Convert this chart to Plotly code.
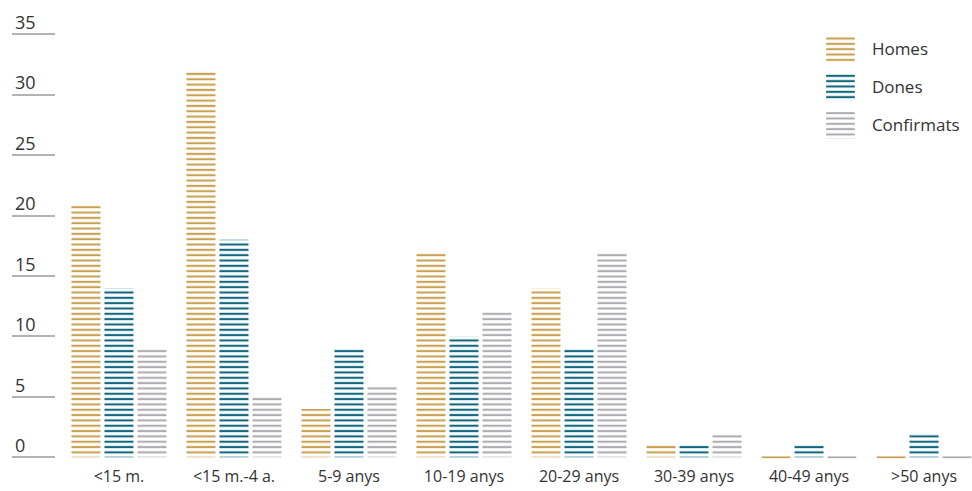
import plotly.graph_objects as go

# Age bands and counts per group
categories = ["<15 m.", "<15 m.-4 a.", "5-9 anys", "10-19 anys", "20-29 anys",
              "30-39 anys", "40-49 anys", ">50 anys"]
homes = [21, 32, 4, 17, 14, 1, 0, 0]
dones = [14, 18, 9, 10, 9, 1, 1, 2]
confirmats = [9, 5, 6, 12, 17, 2, 0, 0]
series_names = ["Homes", "Dones", "Confirmats"]
y_ticks = [0, 5, 10, 15, 20, 25, 30, 35]

colors = ["#C9A155", "#12677F", "#ADADB1"]
series = [homes, dones, confirmats]

FONT = "Open Sans"
TEXT = "#333333"
BARGAP = 0.139
GROUPGAP = 0.121
slot = (1 - BARGAP) / 3


def stripes(col):
    return dict(shape="-", size=5.33, solidity=0.4, fgcolor=col,
                bgcolor="rgba(255,255,255,0)", fgopacity=1)


x_idx = list(range(len(categories)))

fig = go.Figure()

for k, (name, vals, col) in enumerate(zip(series_names, series, colors)):
    fig.add_trace(go.Bar(
        x=x_idx, y=vals, name=name,
        marker=dict(color=col, line=dict(width=0), pattern=stripes(col)),
        showlegend=False, hoverinfo="skip",
    ))
    # a zero count still shows its single base stripe
    zx = [i + (k - 1) * slot for i, v in zip(x_idx, vals) if v == 0]
    zy = [0 for v in vals if v == 0]
    if zx:
        fig.add_trace(go.Scatter(
            x=zx, y=zy, mode="markers", showlegend=False, hoverinfo="skip",
            marker=dict(symbol="line-ew", size=20.5,
                        line=dict(color=col, width=1.8)),
        ))

# legend swatches drawn as patterned bars on their own small axes
for name, col in zip(series_names, colors):
    fig.add_trace(go.Bar(
        x=[1], y=[name], orientation="h", width=0.71,
        xaxis="x2", yaxis="y2", showlegend=False, hoverinfo="skip",
        marker=dict(color=col, line=dict(width=0), pattern=stripes(col)),
    ))

fig.update_layout(
    width=972, height=491,
    margin=dict(l=12, r=0, t=2, b=26),
    paper_bgcolor="white", plot_bgcolor="white",
    barmode="group", bargap=BARGAP, bargroupgap=GROUPGAP,
    font=dict(family=FONT, color=TEXT),
    xaxis=dict(
        range=[-0.930, 7.417], tickmode="array", tickvals=x_idx,
        ticktext=categories, showgrid=False, zeroline=False, showline=False,
        ticks="", tickfont=dict(size=16, color=TEXT), fixedrange=True,
    ),
    yaxis=dict(
        range=[-0.637, 37.672], tickmode="array", tickvals=y_ticks,
        showgrid=False, zeroline=False, showline=False,
        ticks="inside", ticklen=43, tickwidth=2, tickcolor="#B3B3B3",
        ticklabelposition="inside top", ticklabelshift=2,
        tickfont=dict(size=18, color=TEXT), fixedrange=True,
    ),
    xaxis2=dict(domain=[0.848, 0.878], anchor="y2", range=[0, 1],
                visible=False, fixedrange=True),
    yaxis2=dict(domain=[0.6922, 0.9384], anchor="x2", side="right",
                type="category", autorange="reversed",
                showgrid=False, zeroline=False, showline=False, ticks="",
                ticklabelstandoff=16,
                tickfont=dict(size=17, color=TEXT), fixedrange=True),
)

fig.write_html("out.html")
